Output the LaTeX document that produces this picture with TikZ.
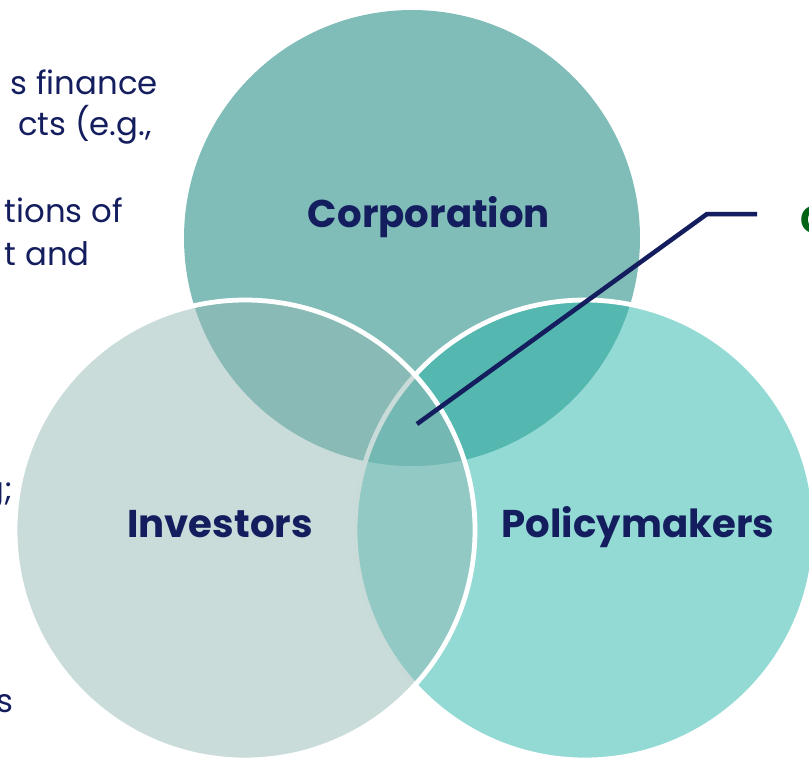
\documentclass[tikz,border=0pt]{standalone}
\usepackage{fontspec}
\setmainfont{Poppins}
\usetikzlibrary{positioning}

\definecolor{navy}{RGB}{20,30,95}
\definecolor{corpteal}{RGB}{128,189,184}
\definecolor{policyteal}{RGB}{42,181,170}
\definecolor{investgrey}{RGB}{147,185,181}
\definecolor{darkgreen}{RGB}{0,100,20}

\tikzset{
  label/.style={font=\fontsize{27.5}{33}\selectfont\bfseries, text=navy, inner sep=0pt},
  sidetext/.style={font=\fontsize{23}{28}\selectfont, text=navy, inner sep=0pt, anchor=base east},
  ring/.style={draw=white, line width=3.4pt},
  leader/.style={draw=navy, line width=3.2pt},
}

\begin{document}
\begin{tikzpicture}
\useasboundingbox (0,0) rectangle (20.225,-19.1);
\clip (0,0) rectangle (20.225,-19.1);

% the three circles
\fill[corpteal] (10.3,-5.95) circle (5.7);
\path[ring, fill=policyteal, fill opacity=0.5] (14.625,-13.25) circle (5.75);
\path[ring, fill=investgrey, fill opacity=0.5] (6.125,-13.25) circle (5.75);

\node[label, anchor=base] (corp) at (10.725,-5.675) {Corporation};
\node[label, anchor=base] (inv) at (5.5,-13.425) {Investors};
\node[label, anchor=base] (pol) at (15.95,-13.425) {Policymakers};

% text cut off on the left
\node[sidetext] (t1) at (3.95,-2.35) {s finance};
\node[sidetext] (t2) at (3.8,-3.375) {cts (e.g.,};
\node[sidetext] (t3) at (3.075,-5.55) {tions of};
\node[sidetext] (t4) at (2.25,-6.625) {t and};
\node[sidetext] (t5) at (0.33,-12.5) {g;};
\node[sidetext] (t6) at (0.35,-17.8) {s};

% leader to the right
\coordinate (tip) at (10.425,-10.6);
\coordinate (bend) at (17.675,-5.35);
\coordinate (tail) at (18.925,-5.35);
\draw[line width=3.2pt, black, opacity=0.15, shift={(0.05,-0.06)}] (tip) -- (bend) -- (tail);
\draw[leader] (tip) -- (bend) -- (tail);
\node[font=\fontsize{27.5}{33}\selectfont\bfseries, text=darkgreen, inner sep=0pt, anchor=base west] (more) at (20.0,-5.825) {C};
\end{tikzpicture}
\end{document}
